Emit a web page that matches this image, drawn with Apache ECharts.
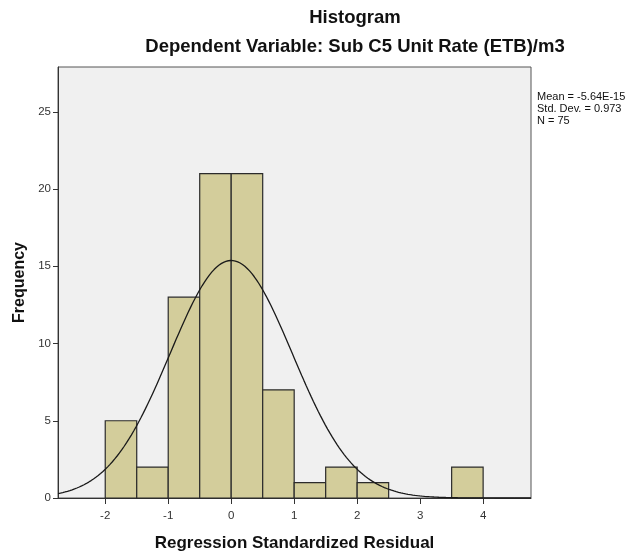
<!DOCTYPE html>
<html>
<head>
<meta charset="utf-8">
<script src="https://cdn.jsdelivr.net/npm/echarts@6/dist/echarts.min.js"></script>
<style>
  html, body { margin: 0; padding: 0; background: #ffffff; }
  #chart { width: 638px; height: 554px; }
</style>
</head>
<body>
<div id="chart"></div>
<script>
// Histogram bins of the regression standardized residuals
const binStarts = [-2, -1.5, -1, -0.5, 0, 0.5, 1, 1.5, 2, 2.5, 3, 3.5];
const binWidth = 0.5;
const counts = [5, 2, 13, 21, 21, 7, 1, 2, 1, 0, 0, 2];

// Summary statistics shown beside the plot
const meanValue = -5.64e-15;
const stdDev = 0.973;
const nCases = 75;
const statLines = ['Mean = -5.64E-15', 'Std. Dev. = 0.973', 'N = 75'];

// Axis ticks
const xTicks = [-2, -1, 0, 1, 2, 3, 4];
const yTicks = [0, 5, 10, 15, 20, 25];
const xRange = [-2.75, 4.76];
const yMax = 27.9;

// Normal curve scaled to frequency counts
const curve = [];
const steps = 200;
for (let i = 0; i <= steps; i++) {
  const x = xRange[0] + (xRange[1] - xRange[0]) * i / steps;
  const z = (x - meanValue) / stdDev;
  const y = nCases * binWidth * Math.exp(-0.5 * z * z) / (stdDev * Math.sqrt(2 * Math.PI));
  curve.push([x, y]);
}

const bars = binStarts.map((s, i) => [s, s + binWidth, counts[i]]).filter(d => d[2] > 0);

const font = '"Liberation Sans", Arial, sans-serif';
const chart = echarts.init(document.getElementById('chart'));

chart.setOption({
  animation: false,
  backgroundColor: '#ffffff',
  textStyle: { fontFamily: font },
  grid: {
    left: 58, right: 107, top: 67, bottom: 56,
    containLabel: false, outerBoundsMode: 'none',
    show: true, backgroundColor: '#f0f0f0', borderColor: '#555555', borderWidth: 1
  },
  xAxis: {
    type: 'value', min: xRange[0], max: xRange[1],
    name: 'Regression Standardized Residual',
    nameLocation: 'middle', nameGap: 37,
    nameTextStyle: { fontFamily: font, fontWeight: 'bold', fontSize: 17, color: '#111111' },
    axisLine: { show: true, onZero: false, lineStyle: { color: '#333333', width: 1 } },
    axisTick: { show: true, length: 6, inside: false, customValues: xTicks, lineStyle: { color: '#333333' } },
    axisLabel: { customValues: xTicks, fontSize: 11.5, color: '#333333', margin: 12, fontFamily: font },
    splitLine: { show: false }
  },
  yAxis: {
    type: 'value', min: 0, max: yMax,
    name: 'Frequency',
    nameLocation: 'middle', nameGap: 30, nameRotate: 90,
    nameTextStyle: { fontFamily: font, fontWeight: 'bold', fontSize: 16, color: '#111111' },
    axisLine: { show: true, onZero: false, lineStyle: { color: '#333333', width: 1 } },
    axisTick: { show: true, length: 5, inside: false, customValues: yTicks, lineStyle: { color: '#333333' } },
    axisLabel: { customValues: yTicks, fontSize: 11.5, color: '#333333', margin: 7, fontFamily: font },
    splitLine: { show: false }
  },
  series: [
    {
      type: 'custom',
      data: bars,
      encode: { x: [0, 1], y: 2 },
      renderItem: function (params, api) {
        const p0 = api.coord([api.value(0), 0]);
        const p1 = api.coord([api.value(1), api.value(2)]);
        return {
          type: 'rect',
          shape: { x: p0[0], y: p1[1], width: p1[0] - p0[0], height: p0[1] - p1[1] },
          style: { fill: '#d3cd9b', stroke: '#2b2b2b', lineWidth: 1.2 }
        };
      },
      z: 2
    },
    {
      type: 'line',
      data: curve,
      showSymbol: false,
      smooth: false,
      lineStyle: { color: '#1a1a1a', width: 1.3 },
      z: 3
    }
  ],
  graphic: [
    {
      type: 'text',
      x: 355, y: 18,
      style: { text: 'Histogram', font: 'bold 18.5px ' + font, fill: '#111111', textAlign: 'center', textVerticalAlign: 'middle' }
    },
    {
      type: 'text',
      x: 355, y: 47,
      style: { text: 'Dependent Variable: Sub C5 Unit Rate (ETB)/m3', font: 'bold 18.5px ' + font, fill: '#111111', textAlign: 'center', textVerticalAlign: 'middle' }
    },
    {
      type: 'text',
      x: 537, y: 91,
      style: { text: statLines.join('\n'), font: '11px ' + font, fill: '#111111', lineHeight: 12 }
    }
  ]
});
</script>
</body>
</html>
